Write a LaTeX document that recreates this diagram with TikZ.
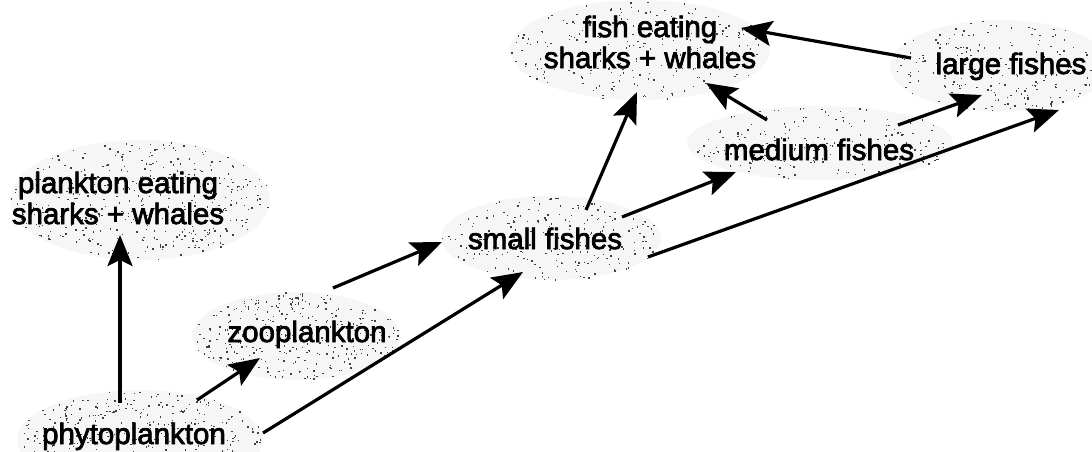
\documentclass[tikz,border=0pt]{standalone}
\usepackage{fontspec}
\setmainfont{Liberation Sans}
\newfontfamily\lblfont[FakeBold=2.5]{Liberation Sans}
\usetikzlibrary{arrows.meta,shapes.geometric}
\newcommand\stipdots[5]{%
  \foreach \i in {1,...,#5}{%
    \pgfmathsetmacro\rr{sqrt(rnd)}%
    \pgfmathsetmacro\aa{360*rnd}%
    \fill[black!75] ({#1+#3*\rr*cos(\aa)},{#2+#4*\rr*sin(\aa)}) rectangle ++(1.4,1.4);%
  }}
\tikzset{
  blob/.style={ellipse,fill=gray!7,draw=none,inner sep=0pt},
  lbl/.style={font=\lblfont\fontsize{29.5}{31}\selectfont,inner sep=0pt,align=center},
  arr/.style={line width=3.2pt,-{Stealth[length=31pt,width=25pt,inset=6pt]}},
}
\begin{document}
\begin{tikzpicture}[x=1pt,y=-1pt]
\useasboundingbox (0,0) rectangle (1092,451);
\pgfmathsetseed{7}
% stippled ellipses
\node[blob,minimum width=260,minimum height=120] (plankE) at (140,200) {};
\node[blob,minimum width=246,minimum height=100] (phytoE) at (140,440) {};
\node[blob,minimum width=208,minimum height=88] (zooE) at (296,336) {};
\node[blob,minimum width=220,minimum height=84] (smallE) at (551,238) {};
\node[blob,minimum width=266,minimum height=74] (mediumE) at (820,143) {};
\node[blob,minimum width=260,minimum height=100] (fishE) at (640,50) {};
\node[blob,minimum width=220,minimum height=92] (largeE) at (1000,66) {};
\stipdots{140}{200}{130}{60}{420}
\stipdots{140}{440}{123}{50}{380}
\stipdots{296}{336}{104}{44}{330}
\stipdots{551}{238}{110}{42}{220}
\stipdots{820}{143}{133}{37}{200}
\stipdots{640}{50}{130}{50}{230}
\stipdots{1000}{66}{110}{46}{220}
% labels
\node[lbl,anchor=base] (phyto) at (134,444) {phytoplankton};
\node[lbl,anchor=base] (zoo) at (307,342) {zooplankton};
\node[lbl] (plank) at (118,198) {plankton eating\\sharks + whales};
\node[lbl,anchor=base] (small) at (545,249) {small fishes};
\node[lbl,anchor=base] (medium) at (819,160) {medium fishes};
\node[lbl] (fish) at (650,42) {fish eating\\sharks + whales};
\node[lbl,anchor=base] (large) at (1011,74) {large fishes};
% arrows
\draw[arr] ([shift={(-14,-41)}]phyto.base) -- ([shift={(2,37)}]plank.center);
\draw[arr] ([shift={(63,-44)}]phyto.base) -- ([shift={(-47,16)}]zoo.base);
\draw[arr] ([shift={(129,-11)}]phyto.base) -- ([shift={(-22,23)}]small.base);
\draw[arr] ([shift={(26,-54)}]zoo.base) -- ([shift={(-103,-7)}]small.base);
\draw[arr] ([shift={(41,-39)}]small.base) -- ([shift={(-13,50)}]fish.center);
\draw[arr] ([shift={(77,-32)}]small.base) -- ([shift={(-83,12)}]medium.base);
\draw[arr] ([shift={(103,8)}]small.base) -- ([shift={(48,36)}]large.base);
\draw[arr] ([shift={(-52,-40)}]medium.base) -- ([shift={(56,41)}]fish.center);
\draw[arr] ([shift={(79,-35)}]medium.base) -- ([shift={(-29,21)}]large.base);
\draw[arr] ([shift={(-100,-16)}]large.base) -- ([shift={(91,-14)}]fish.center);
\end{tikzpicture}
\end{document}
